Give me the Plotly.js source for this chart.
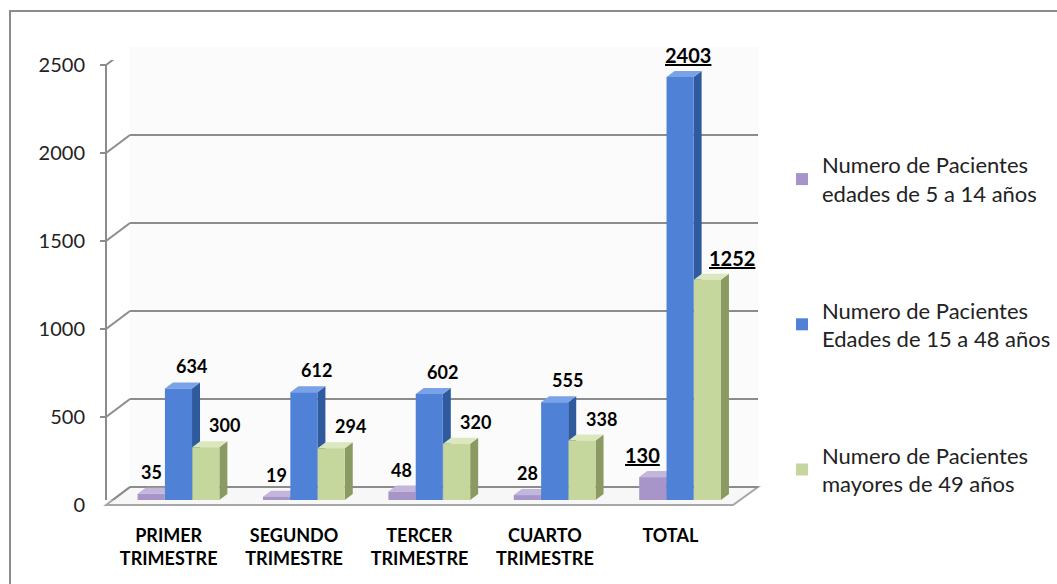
<!DOCTYPE html>
<html><head><meta charset="utf-8">
<script src="https://cdn.plot.ly/plotly-3.0.1.min.js"></script>
<style>
html,body{margin:0;padding:0;background:#fff;overflow:hidden}
#wrap{position:relative;width:1057px;height:584px;overflow:hidden}
#chart{width:1057px;height:584px}
#frame{position:absolute;left:9px;top:10px;width:1100px;height:640px;border-left:2px solid #8c8c8c;border-top:2px solid #8c8c8c;pointer-events:none}
</style>
</head><body>
<div id="wrap"><div id="chart"></div><div id="frame"></div></div>
<script>
// ---------- data ----------
const categories = ['PRIMER<br>TRIMESTRE', 'SEGUNDO<br>TRIMESTRE', 'TERCER<br>TRIMESTRE', 'CUARTO<br>TRIMESTRE', 'TOTAL'];
const seriesNames = [
  'Numero de Pacientes<br>edades de 5 a 14 años',
  'Numero de Pacientes<br>Edades de 15 a 48 años',
  'Numero de Pacientes<br>mayores de 49 años'
];
const pacientes5a14 = [35, 19, 48, 28, 130];
const pacientes15a48 = [634, 612, 602, 555, 2403];
const pacientes49mas = [300, 294, 320, 338, 1252];
const yTicks = [0, 500, 1000, 1500, 2000, 2500];

// ---------- style / geometry ----------
const W = 1057, H = 584;
const M = {l: 106, r: 299, t: 47, b: 84, autoexpand: false};
const PW = W - M.l - M.r, PH = H - M.t - M.b;
const FRONT_W = 627, VAL_H = 440;          // px extents of the value scale
const FRONT_DY = -5;                       // front edge lies 5px below bar base
const BACK_DX = 24, BACK_DY = 13;          // back wall offset from bar base
const BAR_DX = 8, BAR_DY = 6;              // bar depth in px
const XR = [-0.5, 4.5], YR = [0, 2500];
const pxPerX = FRONT_W / (XR[1] - XR[0]);
const pxPerY = VAL_H / (YR[1] - YR[0]);
const barW = 0.216;
const centers = [-0.14, 0.078, 0.296];
const colors = [
  {front: '#a795c9', side: '#7d6c9e', top: '#c3b6dc'},
  {front: '#4f81d6', side: '#2f5a9e', top: '#7aa2e6'},
  {front: '#c5d79c', side: '#8b9a62', top: '#dbe7bd'}
];
const lineCol = '#8c8c8c';
const labelShift = [0, 13, 19];
const totalShift = [-10, 8, 25];
const FONT = 'Lato, "Open Sans", sans-serif';
const series = [pacientes5a14, pacientes15a48, pacientes49mas];
const idx = categories.map((c, i) => i);

const traces = series.map((vals, s) => ({
  type: 'bar',
  x: idx,
  y: vals,
  width: barW,
  offset: centers[s] - barW / 2,
  name: seriesNames[s],
  legendgroup: 'g' + s,
  marker: {color: colors[s].front, line: {width: 0}},
  hoverinfo: 'skip'
}));

const shapes = [];
const aX = BACK_DX / PW, fX = FRONT_W / PW;
const backY = BACK_DY / PH, frontY = FRONT_DY / PH;
// back wall background
shapes.push({type: 'path', xref: 'paper', yref: 'paper', layer: 'below',
  path: `M${aX},${backY} L1,${backY} L1,1 L${aX},1 Z`, fillcolor: '#fbfbfb', line: {width: 0}});
// floor
shapes.push({type: 'path', xref: 'paper', yref: 'paper', layer: 'below',
  path: `M0,${frontY} L${aX},${backY} L1,${backY} L${fX},${frontY} Z`, fillcolor: '#f7f7f7',
  line: {color: '#a6a6a6', width: 2}});
// back wall gridlines, side wall diagonals, front ticks
yTicks.forEach(v => {
  shapes.push({type: 'line', xref: 'paper', yref: 'y', ysizemode: 'pixel', yanchor: v,
    x0: aX, x1: 1, y0: BACK_DY, y1: BACK_DY, line: {color: lineCol, width: 2}, layer: 'below'});
  shapes.push({type: 'line', xref: 'paper', yref: 'y', ysizemode: 'pixel', yanchor: v,
    x0: 0, x1: aX, y0: FRONT_DY, y1: BACK_DY, line: {color: lineCol, width: 2}, layer: 'below'});
  shapes.push({type: 'line', xref: 'paper', yref: 'y', ysizemode: 'pixel', yanchor: v,
    x0: -6 / PW, x1: 0, y0: FRONT_DY, y1: FRONT_DY, line: {color: lineCol, width: 2}, layer: 'below'});
});
// front axis line
shapes.push({type: 'line', xref: 'paper', yref: 'y', ysizemode: 'pixel', yanchor: 0,
  x0: 0, x1: 0, y0: FRONT_DY, y1: FRONT_DY + VAL_H, line: {color: lineCol, width: 2}, layer: 'below'});
// 3D faces of bars (drawn under the bar fronts)
const dxU = BAR_DX / pxPerX, dyU = BAR_DY / pxPerY;
series.forEach((vals, s) => vals.forEach((v, i) => {
  const x0 = i + centers[s] - barW / 2, x1 = x0 + barW;
  shapes.push({type: 'path', xref: 'x', yref: 'y', layer: 'below',
    path: `M${x1},0 L${x1 + dxU},${dyU} L${x1 + dxU},${v + dyU} L${x1},${v} Z`,
    fillcolor: colors[s].side, line: {width: 0}});
  shapes.push({type: 'path', xref: 'x', yref: 'y', layer: 'below',
    path: `M${x0},${v} L${x1},${v} L${x1 + dxU},${v + dyU} L${x0 + dxU},${v + dyU} Z`,
    fillcolor: colors[s].top, line: {width: 0}});
}));

// value labels
const annotations = [];
series.forEach((vals, s) => vals.forEach((v, i) => {
  const isTotal = i === vals.length - 1;
  annotations.push({
    xref: 'x', yref: 'y', x: i + centers[s], y: v,
    text: isTotal ? `<b><span style="text-decoration:underline">${v}</span></b>` : `<b>${v}</b>`,
    showarrow: false, yanchor: 'middle',
    yshift: 22,
    xshift: isTotal ? totalShift[s] : labelShift[s],
    font: {family: FONT, size: isTotal ? 20 : 18, color: '#000'}
  });
}));

const layout = {
  width: W, height: H,
  margin: M,
  paper_bgcolor: '#fff', plot_bgcolor: 'rgba(0,0,0,0)',
  font: {family: FONT, color: '#222'},
  barmode: 'overlay',
  showlegend: true,
  legend: {
    x: (782 - M.l) / PW, xanchor: 'left',
    y: 1 - (144 - M.t) / PH, yanchor: 'top',
    traceorder: 'grouped', tracegroupgap: 85,
    font: {family: FONT, size: 22, color: '#222'},
    bgcolor: 'rgba(0,0,0,0)', itemclick: false
  },
  xaxis: {
    domain: [0, FRONT_W / PW], range: XR,
    tickvals: idx, ticktext: categories,
    tickfont: {family: FONT, size: 18, color: '#000', weight: 'bold'},
    showgrid: false, zeroline: false, showline: false, ticks: '',
    ticklabelstandoff: 23, fixedrange: true
  },
  yaxis: {
    domain: [0, VAL_H / PH], range: YR,
    tickvals: yTicks, ticktext: yTicks.map(String),
    tickfont: {family: FONT, size: 20, color: '#222'},
    ticklabelshift: -FRONT_DY,
    showgrid: false, zeroline: false, showline: false, ticks: '',
    ticklabelstandoff: 20, fixedrange: true
  },
  shapes: shapes,
  annotations: annotations
};

Plotly.newPlot('chart', traces, layout, {displayModeBar: false, staticPlot: true});
</script>
</body></html>
